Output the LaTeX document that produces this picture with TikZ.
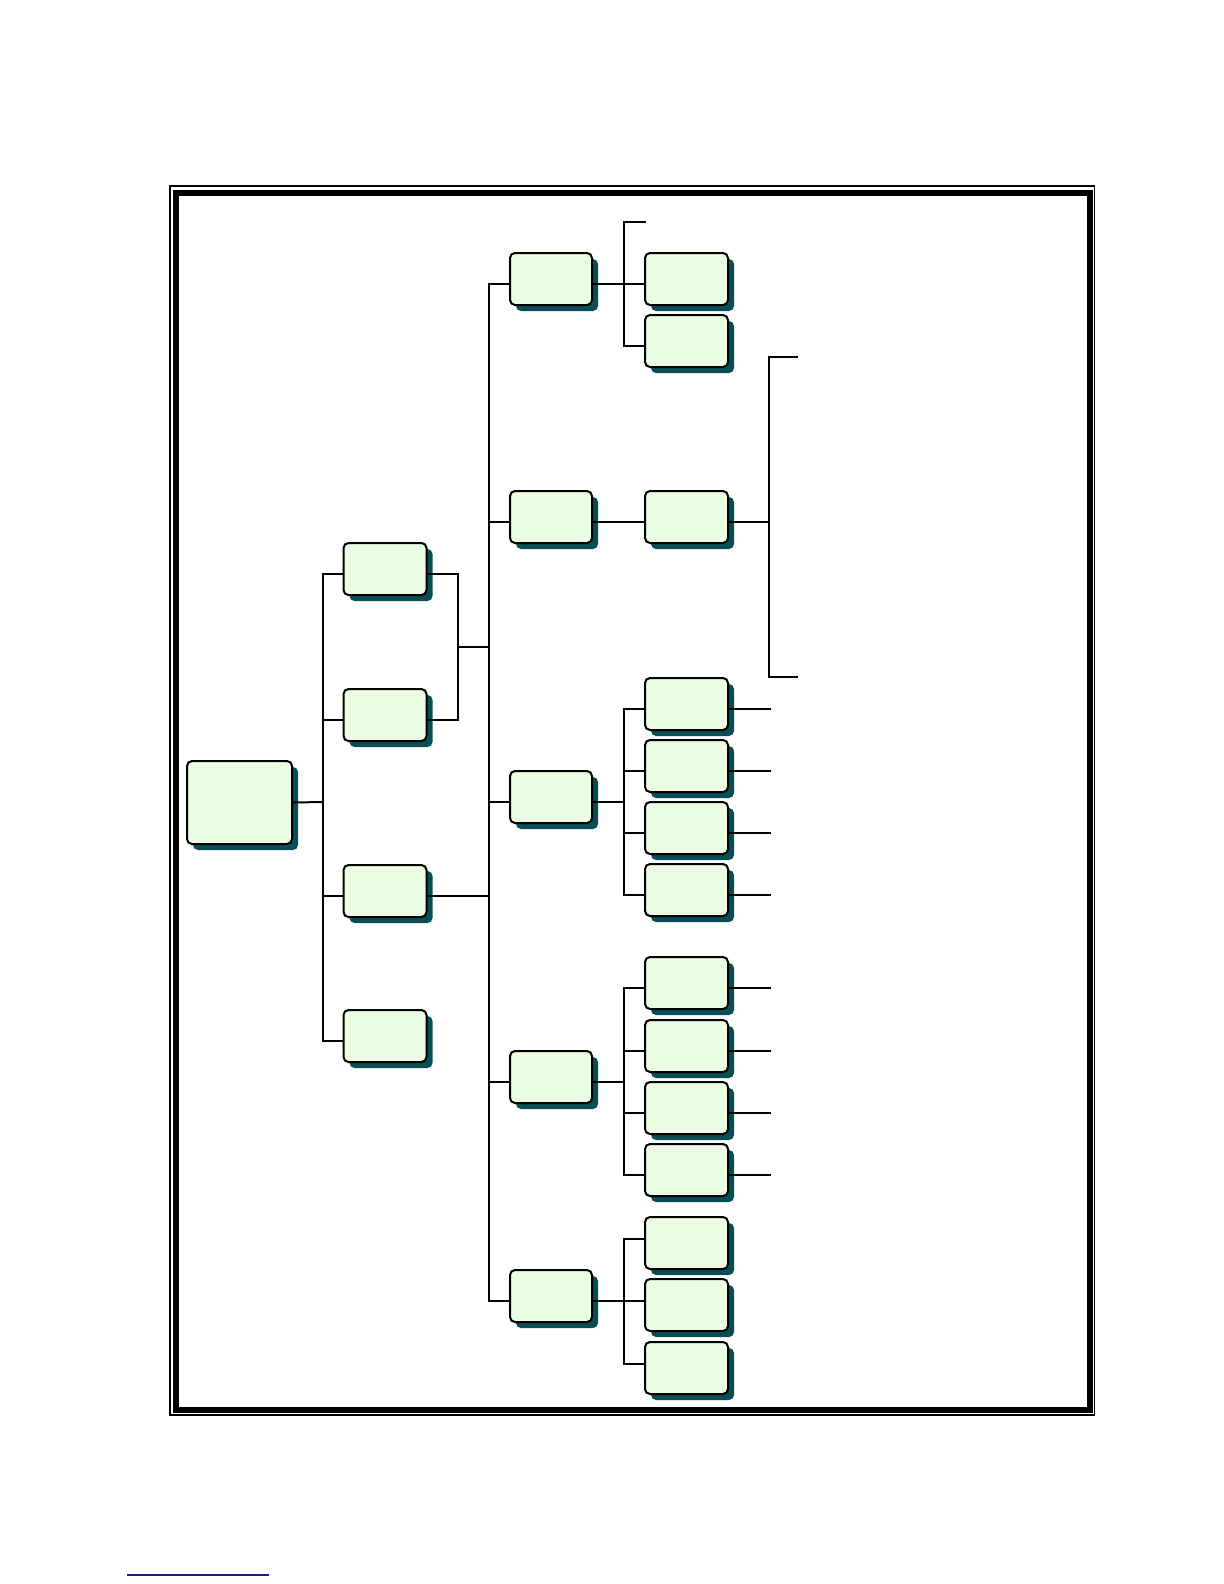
\documentclass[tikz,border=0pt]{standalone}
\usetikzlibrary{shadows}
\definecolor{boxgreen}{RGB}{234,253,226}
\definecolor{boxshade}{RGB}{10,78,85}
\definecolor{rulenavy}{RGB}{26,26,160}
\tikzset{
  box/.style={draw, line width=1pt, rounded corners=2.5pt, fill=boxgreen,
    inner sep=0pt, minimum width=41.5pt, minimum height=26pt,
    drop shadow={shadow xshift=3pt, shadow yshift=-3pt, fill=boxshade, opacity=1}},
  link/.style={line width=1pt},
}
\begin{document}
\begin{tikzpicture}[x=0.5pt, y=-0.5pt]
  \useasboundingbox (0,0) rectangle (1224,1584);
  % page frame
  \draw[line width=0.8pt] (170,186) rectangle (1094.5,1415);
  \draw[line width=3pt] (176,192.5) rectangle (1089.5,1409.5);
  \draw[rulenavy, line width=0.6pt] (127,1575) -- (269,1575);

  % boxes
  \node[box, minimum width=52.5pt, minimum height=41.5pt] (root) at (239.5,802.5) {};
  \node[box] (l2a) at (385,569) {};
  \node[box] (l2b) at (385,715) {};
  \node[box] (l2c) at (385,891) {};
  \node[box] (l2d) at (385,1036) {};
  \node[box, minimum width=41pt] (l3a) at (551,279) {};
  \node[box, minimum width=41pt] (l3b) at (551,517) {};
  \node[box, minimum width=41pt] (l3c) at (551,797) {};
  \node[box, minimum width=41pt] (l3d) at (551,1077) {};
  \node[box, minimum width=41pt] (l3e) at (551,1296) {};
  \node[box] (a1) at (686.5,279) {};
  \node[box] (a2) at (686.5,341) {};
  \node[box] (b1) at (686.5,517) {};
  \node[box] (c1) at (686.5,704) {};
  \node[box] (c2) at (686.5,766) {};
  \node[box] (c3) at (686.5,828) {};
  \node[box] (c4) at (686.5,890) {};
  \node[box] (d1) at (686.5,983) {};
  \node[box] (d2) at (686.5,1046) {};
  \node[box] (d3) at (686.5,1108) {};
  \node[box] (d4) at (686.5,1170) {};
  \node[box] (e1) at (686.5,1243) {};
  \node[box] (e2) at (686.5,1305) {};
  \node[box] (e3) at (686.5,1368) {};

  % bus points
  \coordinate (busL2) at (323,802);
  \coordinate (brk) at (458,647);
  \coordinate (bus3) at (489,802);
  \coordinate (subA) at (624,284);
  \coordinate (stubA) at (646,222);
  \coordinate (brkB) at (769,522);
  \coordinate (brkB1) at (798,357);
  \coordinate (brkB2) at (798,677);
  \coordinate (subC) at (624,802);
  \coordinate (subD) at (624,1082);
  \coordinate (subE) at (624,1301);

  % root to second level
  \draw[link] (root.east) -- (busL2);
  \draw[link] ([yshift=-2.5pt]l2a.west) -| (busL2) |- ([yshift=-2.5pt]l2d.west);
  \draw[link] ([yshift=-2.5pt]l2b.west) -| (busL2);
  \draw[link] ([yshift=-2.5pt]l2c.west) -| (busL2);
  \draw[link] ([yshift=-2.5pt]l2a.east) -| (brk) |- ([yshift=-2.5pt]l2b.east);
  \draw[link] (brk) -- (brk -| bus3);
  \draw[link] ([yshift=-2.5pt]l2c.east) -| (bus3);

  % main bus
  \draw[link] ([yshift=-2.5pt]l3a.west) -| (bus3) |- ([yshift=-2.5pt]l3e.west);
  \foreach \n in {l3b,l3c,l3d}
    \draw[link] ([yshift=-2.5pt]\n.west) -| (bus3);

  % group a
  \draw[link] ([yshift=-2.5pt]l3a.east) -- ([yshift=-2.5pt]a1.west);
  \draw[link] (stubA) -| (subA) |- ([yshift=-2.5pt]a2.west);

  % group b
  \draw[link] ([yshift=-2.5pt]l3b.east) -- ([yshift=-2.5pt]b1.west);
  \draw[link, line width=0.6pt] ([yshift=-2.5pt]b1.east) -- (brkB);
  \draw[link] (brkB1) -| (brkB) |- (brkB2);

  % group c
  \draw[link] ([yshift=-2.5pt]l3c.east) -- (subC);
  \draw[link] ([yshift=-2.5pt]c1.west) -| (subC) |- ([yshift=-2.5pt]c4.west);
  \foreach \n in {c2,c3}
    \draw[link] ([yshift=-2.5pt]\n.west) -| (subC);

  % group d
  \draw[link] ([yshift=-2.5pt]l3d.east) -- (subD);
  \draw[link] ([yshift=-2.5pt]d1.west) -| (subD) |- ([yshift=-2.5pt]d4.west);
  \foreach \n in {d2,d3}
    \draw[link] ([yshift=-2.5pt]\n.west) -| (subD);

  % right stubs
  \foreach \n in {c1,c2,c3,c4,d1,d2,d3,d4}
    \draw[link] ([yshift=-2.5pt]\n.east) -- ++(42,0);

  % group e
  \draw[link] ([yshift=-2.5pt]l3e.east) -- (subE);
  \draw[link] ([yshift=2pt]e1.west) -| (subE) |- ([yshift=2pt]e3.west);
  \draw[link] ([yshift=2pt]e2.west) -- (subE);
\end{tikzpicture}
\end{document}
